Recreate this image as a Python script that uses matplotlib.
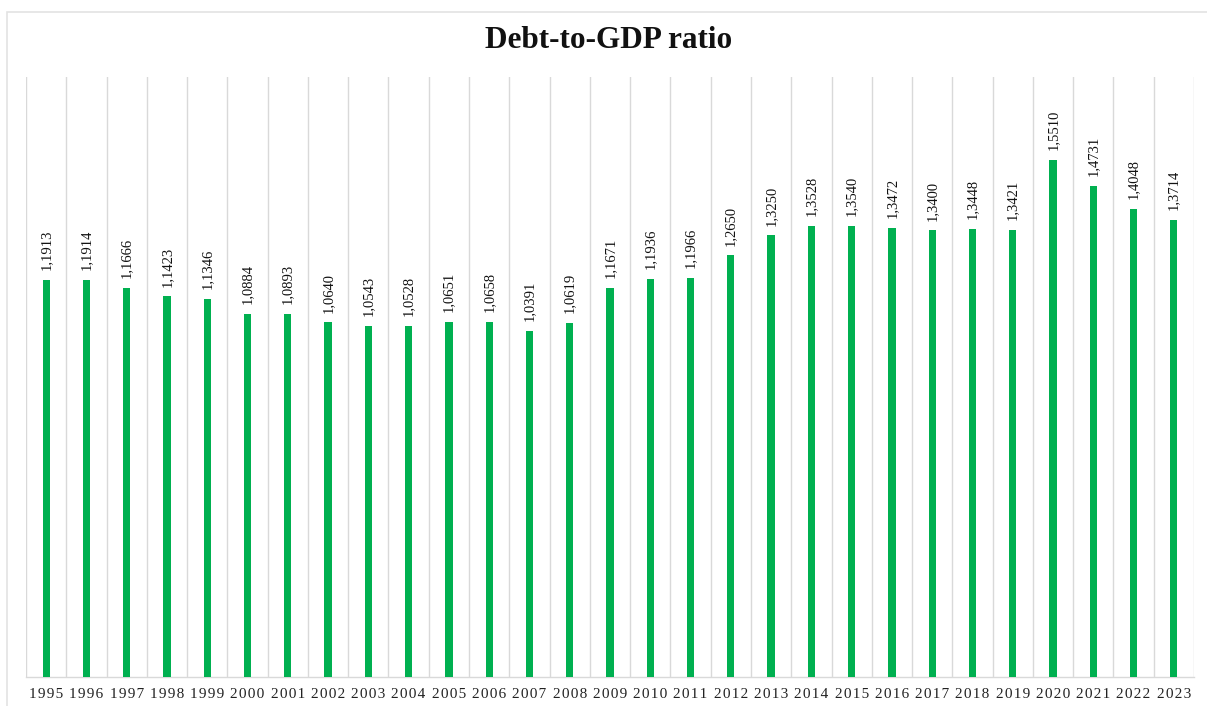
import matplotlib
matplotlib.use("Agg")
import matplotlib.pyplot as plt
from matplotlib.patches import Rectangle

years = [str(y) for y in range(1995, 2024)]
ratios = [1.1913, 1.1914, 1.1666, 1.1423, 1.1346, 1.0884, 1.0893, 1.0640, 1.0543,
          1.0528, 1.0651, 1.0658, 1.0391, 1.0619, 1.1671, 1.1936, 1.1966, 1.2650,
          1.3250, 1.3528, 1.3540, 1.3472, 1.3400, 1.3448, 1.3421, 1.5510, 1.4731,
          1.4048, 1.3714]

plt.rcParams['font.family'] = ['Liberation Serif', 'DejaVu Serif']

W, H = 1207, 706
fig = plt.figure(figsize=(W / 100, H / 100), dpi=100)

# outer chart frame
fig.patches.append(Rectangle((7 / W, -0.1), 1.2, 1 - 12 / H + 0.1,
                             transform=fig.transFigure, fill=False,
                             edgecolor='#e3e3e3', linewidth=1.2))

ax = fig.add_axes([26 / W, 1 - 677 / H, (1194 - 26) / W, (677 - 77) / H])

x = list(range(len(years)))
bars = ax.bar(x, ratios, width=0.18, color='#00B050', zorder=3)

ax.set_xlim(-0.5, len(years) - 0.5)
ax.set_ylim(0, 1.8)

# category separators
for b in range(len(years) + 1):
    ax.axvline(b - 0.5, color='#d9d9d9', linewidth=1.0, zorder=1)

for s in ['top', 'left', 'right']:
    ax.spines[s].set_visible(False)
ax.spines['bottom'].set_color('#d9d9d9')
ax.spines['bottom'].set_linewidth(1.0)

# slightly spaced-out year labels
spaced = ['\u200a'.join(y) for y in years]
ax.set_yticks([])
ax.set_xticks(x)
ax.set_xticklabels(spaced, fontsize=11, color='#222222')
ax.tick_params(axis='x', length=0, pad=8)

for xi, v in zip(x, ratios):
    ax.annotate(f"{v:.4f}".replace('.', ','), xy=(xi, v), xytext=(0, 7),
                textcoords='offset points', rotation=90, ha='center', va='bottom',
                fontsize=10.5, color='#111111')

fig.text(609 / W, 1 - 41 / H, 'Debt-to-GDP ratio', ha='center', va='center',
         fontsize=22.5, fontweight='bold', color='#111111')

fig.savefig('out.png', dpi=100)
